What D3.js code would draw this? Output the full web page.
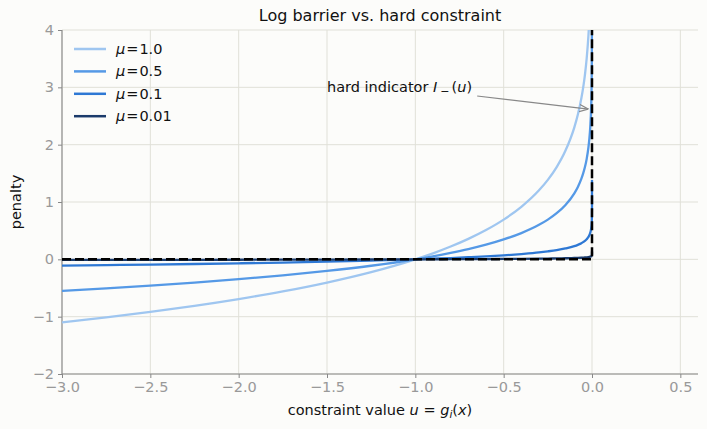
<!DOCTYPE html>
<html>
<head>
<meta charset="utf-8">
<script src="https://cdn.jsdelivr.net/npm/d3@7"></script>
<style>
  body { margin: 0; background: #fcfcfa; }
  svg { display: block; font-family: "DejaVu Sans", sans-serif; }
</style>
</head>
<body>
<div id="chart"></div>
<script>
// sampled constraint values (denser near the boundary u -> 0)
const uValues = [-3, -2.75, -2.5, -2.25, -2, -1.75, -1.5, -1.25, -1, -0.9, -0.8, -0.7,
  -0.6, -0.5, -0.4, -0.3, -0.25, -0.2, -0.15, -0.1, -0.08, -0.06, -0.05, -0.04, -0.03,
  -0.02, -0.015, -0.01, -0.005, -0.002, -0.001, -0.0001, -0.00001, -0.000001];

const penaltyMu1 = [-1.099, -1.012, -0.916, -0.811, -0.693, -0.560, -0.405, -0.223, 0,
  0.105, 0.223, 0.357, 0.511, 0.693, 0.916, 1.204, 1.386, 1.609, 1.897, 2.303, 2.526,
  2.813, 2.996, 3.219, 3.507, 3.912, 4.200, 4.605, 5.298, 6.215, 6.908, 9.210, 11.513, 13.816];
const penaltyMu05 = [-0.549, -0.506, -0.458, -0.405, -0.347, -0.280, -0.203, -0.112, 0,
  0.053, 0.112, 0.178, 0.255, 0.347, 0.458, 0.602, 0.693, 0.805, 0.949, 1.151, 1.263,
  1.407, 1.498, 1.609, 1.753, 1.956, 2.100, 2.303, 2.649, 3.107, 3.454, 4.605, 5.756, 6.908];
const penaltyMu01 = [-0.110, -0.101, -0.092, -0.081, -0.069, -0.056, -0.041, -0.022, 0,
  0.011, 0.022, 0.036, 0.051, 0.069, 0.092, 0.120, 0.139, 0.161, 0.190, 0.230, 0.253,
  0.281, 0.300, 0.322, 0.351, 0.391, 0.420, 0.461, 0.530, 0.621, 0.691, 0.921, 1.151, 1.382];
const penaltyMu001 = [-0.011, -0.010, -0.009, -0.008, -0.007, -0.006, -0.004, -0.002, 0,
  0.001, 0.002, 0.004, 0.005, 0.007, 0.009, 0.012, 0.014, 0.016, 0.019, 0.023, 0.025,
  0.028, 0.030, 0.032, 0.035, 0.039, 0.042, 0.046, 0.053, 0.062, 0.069, 0.092, 0.115, 0.138];

const seriesLabels = ["1.0", "0.5", "0.1", "0.01"];
const seriesColors = ["#9fc6f0", "#5599e6", "#2e78d4", "#1b3b6b"];
const seriesValues = [penaltyMu1, penaltyMu05, penaltyMu01, penaltyMu001];

// hard indicator: 0 for u <= 0, infinite above
const indicatorU = [-3, 0, 0];
const indicatorV = [0, 0, 4];

const xTicks = [-3.0, -2.5, -2.0, -1.5, -1.0, -0.5, 0.0, 0.5];
const yTicks = [-2, -1, 0, 1, 2, 3, 4];

const width = 707;
const height = 429;
const margin = { top: 30, right: 9, bottom: 55, left: 62 };

const x = d3.scaleLinear().domain([-3, 0.6]).range([margin.left, width - margin.right]);
const y = d3.scaleLinear().domain([-2, 4]).range([height - margin.bottom, margin.top]);

const minus = (s) => s.replace("-", "\u2212");

const svg = d3.select("#chart").append("svg")
  .attr("width", width)
  .attr("height", height);

svg.append("rect").attr("width", width).attr("height", height).attr("fill", "#fcfcfa");

svg.append("defs").append("clipPath").attr("id", "plot-clip")
  .append("rect")
  .attr("x", margin.left)
  .attr("y", margin.top)
  .attr("width", width - margin.left - margin.right)
  .attr("height", height - margin.top - margin.bottom);

// grid
const grid = svg.append("g").attr("stroke", "#e0e0d8").attr("stroke-width", 1);
grid.selectAll(".gx").data(xTicks).join("line")
  .attr("x1", (d) => x(d)).attr("x2", (d) => x(d))
  .attr("y1", margin.top).attr("y2", height - margin.bottom);
grid.selectAll(".gy").data(yTicks).join("line")
  .attr("x1", margin.left).attr("x2", width - margin.right)
  .attr("y1", (d) => y(d)).attr("y2", (d) => y(d));

// axes
const xAxis = svg.append("g")
  .attr("transform", `translate(0, ${height - margin.bottom})`)
  .call(d3.axisBottom(x).tickValues(xTicks).tickSize(4).tickPadding(4)
    .tickFormat((d) => minus(d3.format(".1f")(d))));
const yAxis = svg.append("g")
  .attr("transform", `translate(${margin.left}, 0)`)
  .call(d3.axisLeft(y).tickValues(yTicks).tickSize(4).tickPadding(4)
    .tickFormat((d) => minus(String(d))));

[xAxis, yAxis].forEach((ax) => {
  ax.select(".domain").attr("stroke", "#888").attr("stroke-width", 1.1);
  ax.selectAll(".tick line").attr("stroke", "#888");
  ax.selectAll(".tick text").attr("fill", "#999").style("font-size", "14.5px")
    .style("font-family", "DejaVu Sans");
});
xAxis.select(".domain").attr("d", `M${margin.left},0H${width - margin.right}`);
yAxis.select(".domain").attr("d", `M0,${margin.top}V${height - margin.bottom}`);

// curves
const plot = svg.append("g").attr("clip-path", "url(#plot-clip)");
const line = d3.line()
  .x((d) => x(d[0]))
  .y((d) => y(d[1]))
  .curve(d3.curveMonotoneX);

seriesValues.forEach((vals, i) => {
  plot.append("path")
    .datum(uValues.map((u, j) => [u, vals[j]]))
    .attr("d", line)
    .attr("fill", "none")
    .attr("stroke", seriesColors[i])
    .attr("stroke-width", 2.3);
});

plot.append("path")
  .datum(indicatorU.map((u, j) => [u, indicatorV[j]]))
  .attr("d", d3.line().x((d) => x(d[0])).y((d) => y(d[1])))
  .attr("fill", "none")
  .attr("stroke", "#000")
  .attr("stroke-width", 2.5)
  .attr("stroke-dasharray", "9,4");

// annotation
svg.append("defs").append("marker")
  .attr("id", "arrow")
  .attr("viewBox", "0 0 10 10")
  .attr("refX", 10).attr("refY", 5)
  .attr("markerWidth", 9).attr("markerHeight", 9)
  .attr("markerUnits", "userSpaceOnUse")
  .attr("orient", "auto")
  .append("path")
  .attr("d", "M0,1 L10,5 L0,9")
  .attr("fill", "none")
  .attr("stroke", "#888")
  .attr("stroke-width", 1.3);

svg.append("line")
  .attr("x1", x(-0.65)).attr("y1", y(2.85))
  .attr("x2", x(-0.02)).attr("y2", y(2.62))
  .attr("stroke", "#888")
  .attr("stroke-width", 1.1)
  .attr("marker-end", "url(#arrow)");

const ann = svg.append("text")
  .attr("x", x(-1.5)).attr("y", y(3.0))
  .attr("dy", "0.35em")
  .attr("fill", "#111")
  .style("font-size", "14.5px");
ann.append("tspan").text("hard indicator ");
ann.append("tspan").attr("font-style", "italic").text("I");
ann.append("tspan").attr("dx", 3).attr("dy", 3).style("font-size", "11px").text("\u2212");
ann.append("tspan").attr("dx", 2).attr("dy", -3).text("(");
ann.append("tspan").attr("font-style", "italic").text("u");
ann.append("tspan").text(")");

// legend
const legend = svg.append("g").attr("transform", `translate(${margin.left + 12}, 49)`);
seriesLabels.forEach((lab, i) => {
  const row = legend.append("g").attr("transform", `translate(0, ${i * 22.4})`);
  row.append("line")
    .attr("x1", 0).attr("x2", 32)
    .attr("stroke", seriesColors[i])
    .attr("stroke-width", 2.5);
  const t = row.append("text")
    .attr("x", 42).attr("dy", "0.35em")
    .attr("fill", "#111")
    .style("font-size", "14.5px");
  t.append("tspan").attr("font-style", "italic").text("\u03bc");
  t.append("tspan").attr("dx", 1).text("=" );
  t.append("tspan").attr("dx", 1).text(lab);
});

// title and labels
svg.append("text")
  .attr("x", (margin.left + width - margin.right) / 2)
  .attr("y", 21)
  .attr("text-anchor", "middle")
  .attr("fill", "#111")
  .style("font-size", "16px")
  .text("Log barrier vs. hard constraint");

const xl = svg.append("text")
  .attr("x", (margin.left + width - margin.right) / 2)
  .attr("y", 415)
  .attr("text-anchor", "middle")
  .attr("fill", "#111")
  .style("font-size", "14.5px");
xl.append("tspan").text("constraint value ");
xl.append("tspan").attr("font-style", "italic").text("u");
xl.append("tspan").text(" = ");
xl.append("tspan").attr("font-style", "italic").text("g");
xl.append("tspan").attr("font-style", "italic").attr("dy", 3).style("font-size", "10.5px").text("i");
xl.append("tspan").attr("dy", -3).text("(");
xl.append("tspan").attr("font-style", "italic").text("x");
xl.append("tspan").text(")");

svg.append("text")
  .attr("transform", `translate(21, ${(margin.top + height - margin.bottom) / 2}) rotate(-90)`)
  .attr("text-anchor", "middle")
  .attr("fill", "#111")
  .style("font-size", "14.5px")
  .text("penalty");
</script>
</body>
</html>
